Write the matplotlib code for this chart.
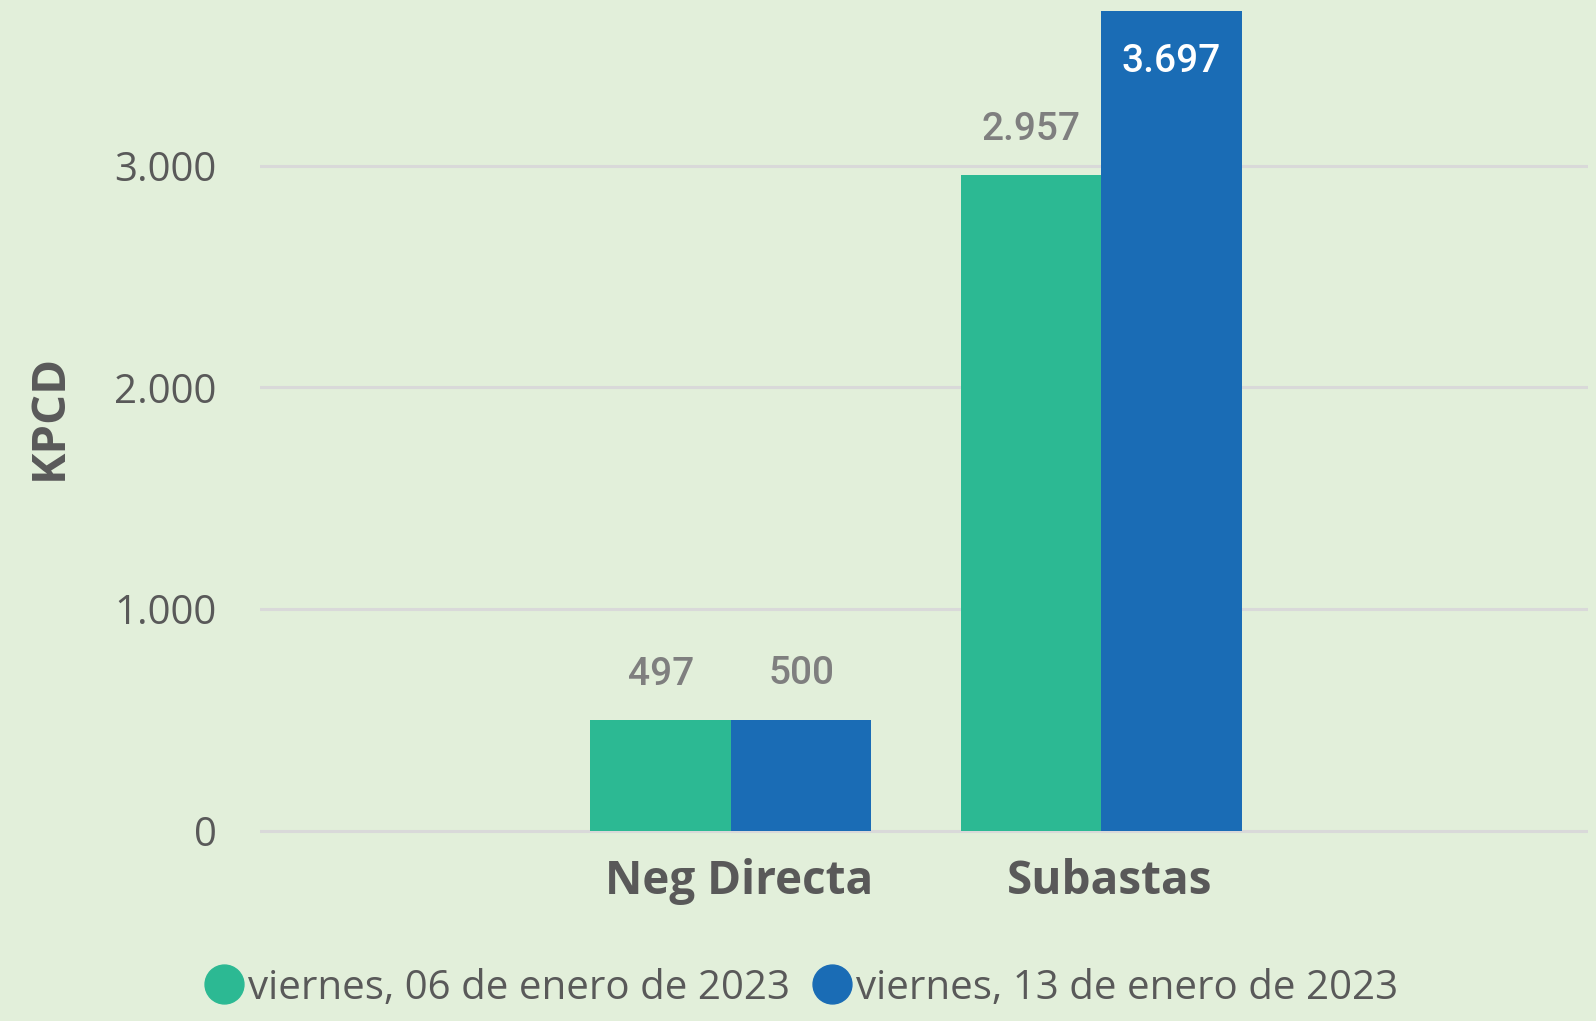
import matplotlib
matplotlib.use("Agg")
import matplotlib.pyplot as plt
import matplotlib.transforms as mtransforms
from matplotlib.lines import Line2D
import numpy as np

# datos
categorias = ["Neg Directa", "Subastas"]
serie_06 = [497, 2957]
serie_13 = [500, 3697]
etiquetas_06 = ["497", "2.957"]
etiquetas_13 = ["500", "3.697"]
nombres = ["viernes, 06 de enero de 2023", "viernes, 13 de enero de 2023"]
yticks = [0, 1000, 2000, 3000]
ytick_labels = ["0", "1.000", "2.000", "3.000"]

fondo = "#E2EFDA"
verde = "#2CB993"
azul = "#1A6CB5"
gris = "#595959"

plt.rcParams["font.family"] = ["Open Sans", "DejaVu Sans"]

fig = plt.figure(figsize=(15.96, 10.21), dpi=100, facecolor=fondo)
ax = fig.add_axes([0.1627, 0.1832, 0.8323, 0.8168])
ax.set_facecolor(fondo)

x = np.arange(len(categorias))
w = 0.379
b1 = ax.bar(x - w / 2, serie_06, w, color=verde, zorder=3)
b2 = ax.bar(x + w / 2, serie_13, w, color=azul, zorder=3)

# etiquetas de datos
for rect, txt in zip(b1, etiquetas_06):
    ax.annotate(txt, (rect.get_x() + rect.get_width() / 2, rect.get_height()),
                xytext=(0, 33), textcoords="offset points", ha="center", va="center",
                fontsize=28, color="#7F7F7F", family="Roboto", fontweight="medium")
for rect, txt in zip(b2, etiquetas_13):
    dentro = rect.get_height() > 3500
    ax.annotate(txt, (rect.get_x() + rect.get_width() / 2, rect.get_height()),
                xytext=(0, -36 if dentro else 33), textcoords="offset points",
                ha="center", va="center", fontsize=28, fontweight="medium",
                color="white" if dentro else "#7F7F7F", family="Roboto")

ax.set_xlim(-1.272, 2.314)
ax.set_ylim(-15, 3748)
ax.set_yticks(yticks)
ax.set_yticklabels(ytick_labels)
ax.set_xticks(x)
ax.set_xticklabels(categorias, fontweight="bold")
ax.tick_params(axis="y", length=0, pad=31, labelsize=29, labelcolor=gris)
ax.tick_params(axis="x", length=0, pad=17, labelsize=33, labelcolor=gris)
# las etiquetas de categoria van un poco a la derecha
desplaza = mtransforms.ScaledTranslation(8 / 100, 0, fig.dpi_scale_trans)
for lab in ax.get_xticklabels():
    lab.set_transform(lab.get_transform() + desplaza)
ax.grid(axis="y", color="#D9D9D9", linewidth=2.2, zorder=0)
for s in ax.spines.values():
    s.set_visible(False)

ax.set_ylabel("KPCD", fontsize=34, fontweight="bold", color=gris)
ax.yaxis.set_label_coords(-0.141, 0.5)

handles = [Line2D([], [], marker="o", linestyle="none", markersize=28, color=c)
           for c in (verde, azul)]
fig.legend(handles, nombres, loc="center", bbox_to_anchor=(0.5026, 0.032), ncol=2,
           frameon=False, fontsize=29, labelcolor=gris, handlelength=0.9,
           handletextpad=0.15, columnspacing=0.6)

fig.savefig("out.png", dpi=100, facecolor=fondo)
